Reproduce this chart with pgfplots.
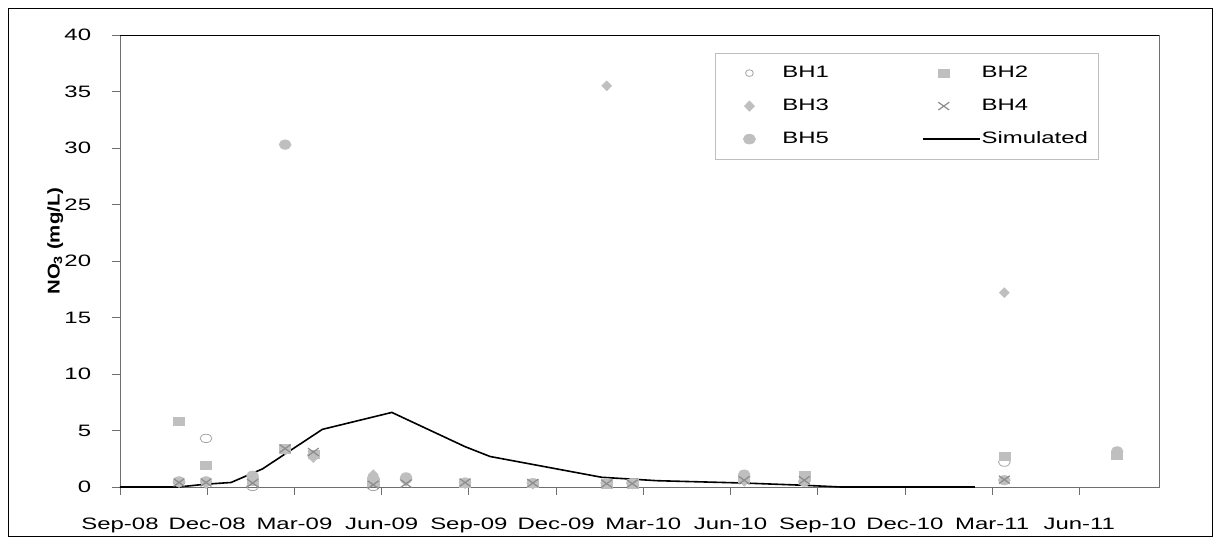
\documentclass[border=0pt]{standalone}
\usepackage{fontspec}
\setmainfont{Liberation Sans}[FakeStretch=1.45]
\newfontfamily\ylabfont{Liberation Sans}[FakeStretch=1.2]
\usepackage{pgfplots}
\pgfplotsset{compat=1.18}
\definecolor{mk}{RGB}{191,191,191}
\definecolor{mkx}{RGB}{140,140,140}
\definecolor{mko}{RGB}{165,165,165}
\definecolor{axg}{RGB}{110,110,110}
\definecolor{lgd}{RGB}{190,190,190}
\pgfplotsset{
  bh1/.style={only marks, mark=o, mark size=4.2pt, mark options={xscale=1.4, draw=mko, line width=0.8pt, fill=none}},
  bh2/.style={only marks, mark=square*, mark size=4.15pt, mark options={xscale=1.33, draw=mk, fill=mk}},
  bh3/.style={only marks, mark=diamond*, mark size=5pt, mark options={xscale=1.33, draw=mk, fill=mk}},
  bh4/.style={only marks, mark=x, mark size=5.5pt, mark options={xscale=1.4, draw=mkx, line width=1.2pt}},
  bh5/.style={only marks, mark=*, mark size=4.8pt, mark options={xscale=1.25, draw=mk, fill=mk}},
  sim/.style={black, line width=1.6pt, no marks},
  col1/.style={legend image code/.code={\path[draw=none,fill=none] (0pt,0pt) rectangle (57pt,1pt); \draw[##1] plot coordinates {(25pt,0pt)};}},
  col2/.style={legend image code/.code={\path[draw=none,fill=none] (0pt,0pt) rectangle (57pt,1pt); \draw[##1] plot coordinates {(21pt,0pt)};}},
  simleg/.style={legend image code/.code={\path[draw=none,fill=none] (0pt,0pt) rectangle (57pt,1pt); \draw[##1] (0pt,0pt) -- (57pt,0pt);}},
}
\begin{document}
\begin{tikzpicture}[font=\fontsize{16.5pt}{19pt}\selectfont]
\path[use as bounding box] (-120pt,-52pt) rectangle (1095pt,487pt);
\draw[black, line width=0.8pt] (-112pt,-49pt) rectangle (1092pt,479pt);
\begin{axis}[
  at={(0pt,0pt)}, anchor=south west,
  scale only axis, width=1039pt, height=452pt,
  xmin=0, xmax=35.74, ymin=0, ymax=40,
  xtick={0,3,...,33},
  xticklabels={Sep-08,Dec-08,Mar-09,Jun-09,Sep-09,Dec-09,Mar-10,Jun-10,Sep-10,Dec-10,Mar-11,Jun-11},
  ytick={0,5,...,40},
  tick align=outside, major tick length=8pt,
  xtick pos=left, ytick pos=left,
  tick style={axg, line width=0.8pt},
  axis line style={axg, line width=0.8pt},
  /pgf/number format/assume math mode=true,
  yticklabel style={inner sep=0pt, anchor=east, xshift=-20.7pt},
  xticklabel style={inner sep=0pt, anchor=north, yshift=-22.5pt},
  ylabel={NO\textsubscript{3} (mg/L)},
  ylabel style={font=\fontsize{17pt}{19pt}\ylabfont\bfseries, at={(axis description cs:-0.0624,0.544)}, anchor=center},
  legend columns=2,
  legend cell align=left,
  legend style={at={(0.5727,0.9608)}, anchor=north west, draw=lgd, line width=0.8pt, fill=white,
    inner xsep=9pt, inner ysep=11.5pt, row sep=16pt, column sep=0pt,
    nodes={inner sep=1pt, text height=12pt, text depth=3pt},
    /tikz/column 2/.style={column sep=92pt}},
]
% legend images
\addlegendimage{bh1, mark size=3.4pt, mark options={xscale=1.15, draw=mko, line width=0.8pt, fill=none}, col1}\addlegendentry{BH1}
\addlegendimage{bh2, col2}\addlegendentry{BH2}
\addlegendimage{bh3, col1}\addlegendentry{BH3}
\addlegendimage{bh4, col2}\addlegendentry{BH4}
\addlegendimage{bh5, col1}\addlegendentry{BH5}
\addlegendimage{sim, simleg}\addlegendentry{Simulated}
% BH1
\addplot[bh1, forget plot] coordinates {(2.03,0.4) (2.96,4.3) (4.56,0.05) (8.71,0.05) (9.84,0.7) (21.47,0.9) (30.42,2.2)};
% BH2
\addplot[bh2, forget plot] coordinates {(2.03,5.8) (2.96,1.9) (4.56,0.5) (5.68,3.4) (6.65,2.9) (8.71,0.4) (11.87,0.35) (14.2,0.35) (16.74,0.3) (17.62,0.3) (21.47,0.8) (23.54,1.0) (30.42,2.7) (34.3,2.8)};
% BH3
\addplot[bh3, forget plot] coordinates {(2.03,0.4) (2.96,0.3) (4.56,0.6) (5.68,3.3) (6.65,2.6) (8.71,1.1) (9.84,0.5) (11.87,0.3) (14.2,0.25) (16.74,35.5) (17.62,0.25) (21.47,0.5) (23.54,0.5) (30.42,17.2)};
% BH5
\addplot[bh5, forget plot] coordinates {(2.03,0.5) (2.96,0.5) (4.56,1.0) (5.68,30.3) (6.65,2.8) (8.71,0.8) (9.84,0.85) (11.87,0.4) (14.2,0.35) (16.74,0.35) (17.62,0.35) (21.47,1.1) (23.54,0.5) (30.42,0.6) (34.3,3.15)};
% BH4
\addplot[bh4, forget plot] coordinates {(2.03,0.4) (2.96,0.4) (4.56,0.35) (5.68,3.4) (6.65,3.1) (8.71,0.2) (9.84,0.3) (11.87,0.4) (14.2,0.35) (16.74,0.3) (17.62,0.3) (21.47,0.6) (23.54,0.6) (30.42,0.65)};
% Simulated
\addplot[sim, forget plot] coordinates {(0,0) (2.0,0) (2.96,0.25) (3.82,0.4) (4.9,1.6) (6.96,5.1) (9.35,6.6) (11.87,3.57) (12.73,2.7) (16.57,0.86) (18.46,0.56) (21.47,0.35) (23.56,0.15) (24.8,0) (29.41,0)};
\draw[black, line width=0.8pt] (rel axis cs:0,1) -- (rel axis cs:1,1);
\end{axis}
\end{tikzpicture}
\end{document}
